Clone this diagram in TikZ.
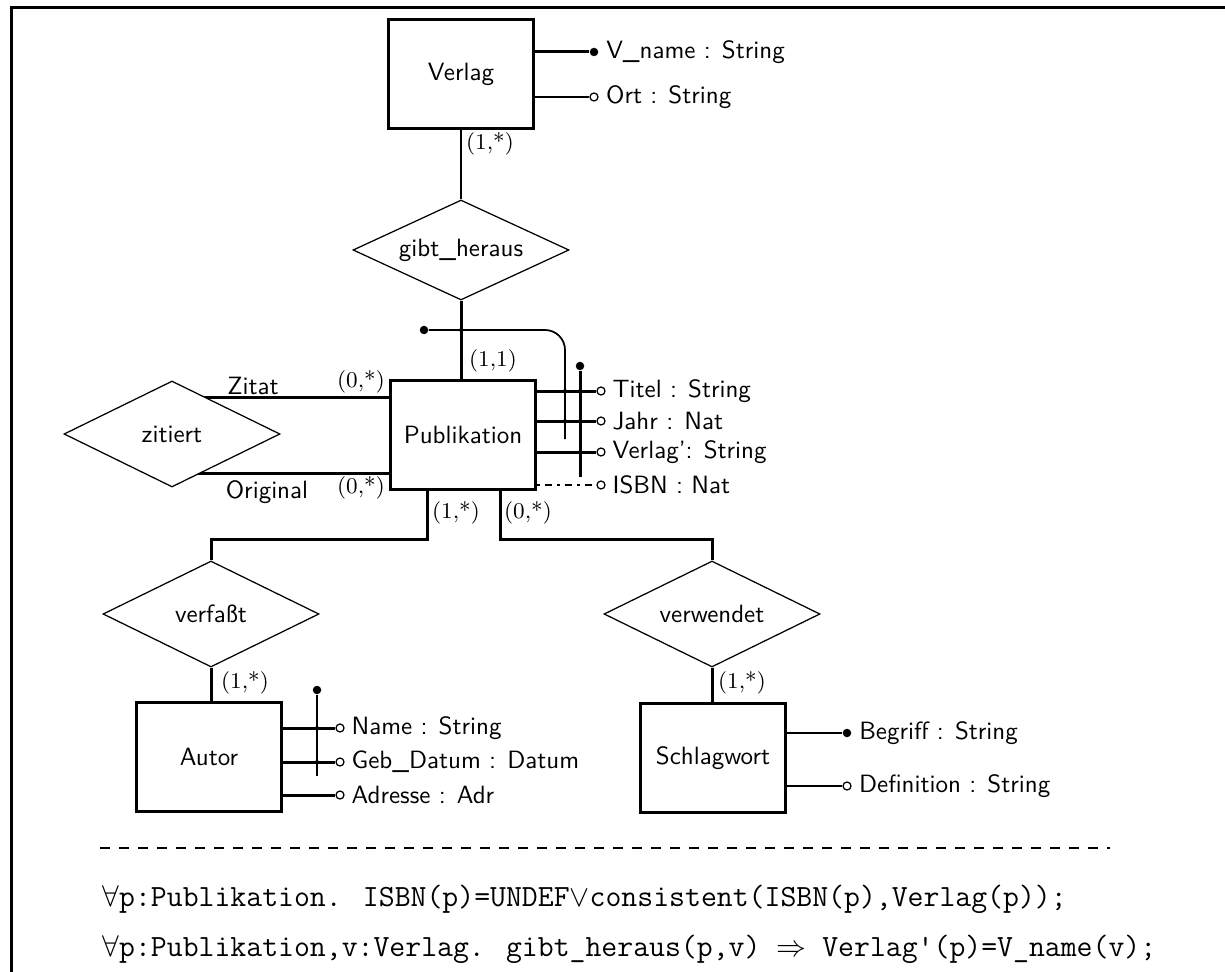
\documentclass[tikz,border=0pt]{standalone}
\usepackage{fontspec}
\usetikzlibrary{shapes.geometric, positioning, backgrounds}

\begin{document}
\begin{tikzpicture}[x=0.4pt, y=-0.4pt,
    ent/.style={draw, fill=white, line width=1.2pt, minimum width=58pt, minimum height=43.6pt, font=\sffamily},
    rel/.style={draw, diamond, aspect=2, fill=white, line width=0.5pt, minimum width=86.4pt, minimum height=42.4pt, inner sep=0pt, font=\sffamily},
    conn/.style={line width=1.2pt},
    lconn/.style={line width=0.7pt},
    keydot/.style={circle, fill, inner sep=0pt, minimum size=3.4pt},
    optdot/.style={circle, draw, fill=white, line width=0.5pt, inner sep=0pt, minimum size=3.2pt},
    junc/.style={circle, fill, inner sep=0pt, minimum size=1.6pt},
    attname/.style={inner sep=0pt, font=\sffamily},
    card/.style={inner sep=0pt, font=\small\rmfamily},
    formula/.style={anchor=west, inner sep=0pt, font=\ttfamily\fontsize{12.35}{15}\selectfont}]
    \useasboundingbox (0,0) rectangle (1225,972);

    % Frame
    \draw[line width=1.2pt] (11.5,972) -- (11.5,7.5) -- (1225,7.5);

    % Entities
    \node[ent] (verlag) at (461,74) {Verlag};
    \node[ent] (pub) at (463,435) {Publikation};
    \node[ent] (autor) at (209,757) {Autor};
    \node[ent] (schlag) at (713,758) {Schlagwort};

    % Relationships
    \node[rel, minimum height=40pt] (gibt) at (461,250) {gibt\_heraus};
    \node[rel] (zit) at (172,434) {zitiert};
    \node[rel] (verf) at (211,614) {verfaßt};
    \node[rel] (verw) at (712,614) {verwendet};

    % Attributes of Verlag
    \node[keydot] (vname) at (594,52) {};
    \node[attname, right=2.8pt of vname] (vname-t) {V\_name : String};
    \node[optdot] (ort) at (594,97) {};
    \node[attname, right=2.8pt of ort] (ort-t) {Ort : String};

    % Attributes of Publikation
    \node[optdot] (titel) at (601,391) {};
    \node[attname, right=2.6pt of titel] (titel-t) {Titel : String};
    \node[optdot] (jahr) at (601,421) {};
    \node[attname, right=2.6pt of jahr] (jahr-t) {Jahr : Nat};
    \node[optdot] (verlagp) at (601,452) {};
    \node[attname, right=2.6pt of verlagp] (verlagp-t) {Verlag': String};
    \node[optdot] (isbn) at (601,485) {};
    \node[attname, right=2.6pt of isbn] (isbn-t) {ISBN : Nat};

    % Attributes of Autor
    \node[optdot] (name) at (340,728) {};
    \node[attname, right=2.6pt of name] (name-t) {Name : String};
    \node[optdot] (geb) at (340,762) {};
    \node[attname, right=2.6pt of geb] (geb-t) {Geb\_Datum : Datum};
    \node[optdot] (adr) at (340,795) {};
    \node[attname, right=2.6pt of adr] (adr-t) {Adresse : Adr};

    % Attributes of Schlagwort
    \node[keydot] (begriff) at (847,733) {};
    \node[attname, right=2.8pt of begriff] (begriff-t) {Begriff : String};
    \node[optdot] (defin) at (847,786) {};
    \node[attname, right=2.8pt of defin] (defin-t) {Definition : String};

    % Keys
    \node[keydot] (k1) at (424,330) {};
    \coordinate (k1end) at (565,439);
    \node[keydot] (k2) at (580,366) {};
    \coordinate (k2end) at (580,477);
    \node[keydot] (k3) at (317,690) {};
    \coordinate (k3end) at (317,776);

    % Zitat / Original ends
    \coordinate (zitA) at ([yshift=-7.2pt]pub.north west);
    \coordinate (orgA) at ([yshift=7.2pt]pub.south west);

    \begin{scope}[on background layer]
        % Relationship lines
        \draw[lconn] (verlag.south) -- (gibt.north);
        \draw[conn] (gibt.south) -- (gibt.south |- pub.north);
        \draw[conn] (zitA) -- (zitA -| zit.center);
        \draw[conn] (orgA) -- (orgA -| zit.center);
        \draw[conn] ([xshift=-14.4pt]pub.south) -- ++(0,48) -| (verf.north);
        \draw[conn] ([xshift=14.8pt]pub.south) -- ++(0,48) -| (verw.north);
        \draw[conn] (verf.south) -- (verf.south |- autor.north);
        \draw[conn] (verw.south) -- (verw.south |- schlag.north);

        % Attribute lines
        \draw[conn] (vname -| verlag.east) -- (vname);
        \draw[lconn] (ort -| verlag.east) -- (ort);
        \draw[conn] (titel -| pub.east) -- (titel);
        \draw[conn] (jahr -| pub.east) -- (jahr);
        \draw[conn] (verlagp -| pub.east) -- (verlagp);
        \draw[lconn, dash pattern=on 1pt off 2pt on 3pt off 2pt] (isbn -| pub.east) -- (isbn);
        \draw[conn] (name -| autor.east) -- (name);
        \draw[conn] (geb -| autor.east) -- (geb);
        \draw[conn] (adr -| autor.east) -- (adr);
        \draw[lconn] (begriff -| schlag.east) -- (begriff);
        \draw[lconn] (defin -| schlag.east) -- (defin);

        % Key lines
        \draw[lconn, rounded corners=8pt] (k1) -| (k1end);
        \draw[conn] (k2) -- (k2end);
        \draw[lconn] (k3) -- (k3end);
    \end{scope}

    % Junctions
    \node[junc] at (gibt.south |- k1) {};
    \node[junc] at (k1end |- titel) {};
    \node[junc] at (k1end |- jahr) {};
    \node[junc] at (k2 |- titel) {};
    \node[junc] at (k2 |- jahr) {};
    \node[junc] at (k2 |- verlagp) {};
    \node[junc] at (k3 |- name) {};
    \node[junc] at (k3 |- geb) {};

    % Cardinalities
    \node[card] (c-verlag) at (490,144) {(1,*)};
    \node[card] (c-pub) at (493,361) {(1,1)};
    \node[card] (c-zitat) at (361,382) {(0,*)};
    \node[card] (c-orig) at (361,488) {(0,*)};
    \node[card] (c-autor) at (456,513) {(1,*)};
    \node[card] (c-schlag) at (528,513) {(0,*)};
    \node[card] (c-verf) at (245,683) {(1,*)};
    \node[card] (c-verw) at (742,683) {(1,*)};

    % Roles
    \node[attname] (zitat) at (253,386) {Zitat};
    \node[attname] (orig) at (267,492) {Original};

    % Constraints
    \draw[line width=0.7pt, dash pattern=on 4pt off 3.6pt] (100,848) -- (1110,848);
    \node[formula] (f1) at (102,899) {$\forall$p:Publikation. ISBN(p)=UNDEF$\vee$consistent(ISBN(p),Verlag(p));};
    \node[formula] (f2) at (102,949) {$\forall$p:Publikation,v:Verlag. gibt\_heraus(p,v) $\Rightarrow$ Verlag'(p)=V\_name(v);};
\end{tikzpicture}
\end{document}
